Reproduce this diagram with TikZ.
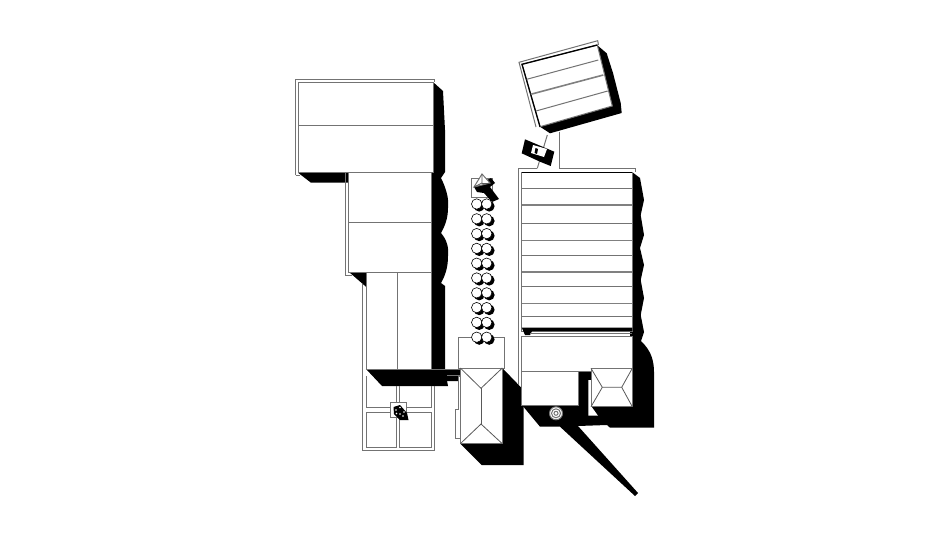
\documentclass[tikz,border=0pt]{standalone}
\usepackage{xcolor}
\tikzset{roofline/.style={draw=black!55,line width=1pt},
	ridgeline/.style={draw=black!65,line width=0.8pt},
	heavyline/.style={draw=black!50,line width=1.6pt},
	shade/.style={fill=black,draw=none},
	roof/.style={fill=white,draw=black!55,line width=1pt},
	tree/.style={fill=white,draw=black,line width=0.6pt}}
\begin{document}
\begin{tikzpicture}[x=1pt,y=-1pt]
		\useasboundingbox (0,0) rectangle (950,538);
		% shadows of the long building on the left
		\fill[shade] (433,82) -- (443,91) -- (445,130) -- (445,172) -- (441,178) .. controls (447,190) and (449,200) .. (448,208) .. controls (448,218) and (445,226) .. (441,233) .. controls (447,240) and (449,248) .. (448,256) .. controls (448,268) and (445,276) .. (441,283) -- (445,286) -- (445,369) -- (460,369) -- (460,381) -- (447,381) -- (448,386) -- (382,386) -- (366,369) -- (431,369) -- (431,82) -- cycle;
		\fill[shade] (298,172.7) -- (311,182.7) -- (348.3,182.7) -- (348.3,172.7) -- cycle;
		\fill[shade] (349,272) -- (366.3,287) -- (366.3,272) -- cycle;
		% shadow of the middle house
		\fill[shade] (502.3,368) -- (523.5,390) -- (523.5,465) -- (481.7,465) -- (460.3,443.7) -- cycle;
		% shadows of the long building on the right
		\fill[shade] (632,172) -- (640,178) -- (644,200) -- (640.7,215) -- (644,235) -- (640,248) -- (644,265) -- (640.7,280) -- (644,298) -- (640.7,315) -- (644,332) -- (640,344) -- (630,344) -- cycle;
		\fill[shade] (630,336) -- (635,336) .. controls (642,342) and (654,350) .. (654,372) -- (654,427.7) -- (610,427.7) -- (607,425) -- (578,426) -- (638,493) -- (635,496) -- (560,426.7) -- (540,426.7) -- (522,405) -- (578,371) -- (630,371) -- cycle;
		\fill[white] (588.3,380) -- (591,380) -- (591,406) -- (598,415.7) -- (588.3,415.7) -- cycle;
		% shadow of the tilted building
		\fill[shade] (597,45) -- (606.7,53.3) -- (613,73) -- (620.7,103) -- (621.7,113) -- (550,133.3) -- (540,126.7) -- cycle;
		% left building
		\draw[roofline] (295.7,175.3) -- (295.7,79) -- (434,79) -- (434,82);
		\draw[roofline] (295.7,175.3) -- (300,175.3);
		\draw[roof] (298.3,82) rectangle (433,172.7);
		\draw[roofline] (298.3,125) -- (433,125);
		\draw[roofline] (345.7,172.7) -- (345.7,275.3) -- (352,275.3);
		\draw[roof] (348.3,172.7) rectangle (431.7,272);
		\draw[roofline] (348.3,222) -- (431.7,222);
		\draw[roof] (366.3,272) rectangle (431.7,369);
		\draw[roofline] (397.7,272) -- (397.7,369);
		% walled garden with the four beds
		\draw[roofline] (362.7,284) -- (362.7,450.7) -- (434,450.7) -- (434,386);
		\draw[roofline] (366,376) -- (366,407.7) -- (396.7,407.7) -- (396.7,386);
		\draw[roofline] (431,386) -- (431,407.7) -- (399.7,407.7) -- (399.7,386);
		\draw[roofline] (366,412) rectangle (396.7,447.7);
		\draw[roofline] (399.7,412) rectangle (431,447.7);
		\draw[roofline,fill=white] (390.7,402.7) -- (406.7,402.7) -- (406.7,417) -- (390.7,417) -- cycle;
		\fill[shade] (393.5,407) -- (400,405) -- (407,413) -- (408.5,420) -- (400,420) -- (394,414) -- cycle;
		\foreach \dotx/\doty in {396/410,400/407.5,404/412,400/414,396.5/413.5,403/416}
			\fill[white] (\dotx,\doty) circle (0.8);
		% path between the buildings
		\draw[roofline] (431.7,369) -- (460,369);
		\draw[roofline] (447,375) -- (460,375);
		\draw[roof] (458,337.3) rectangle (504.3,368);
		\draw[roofline,fill=white] (455.3,409.3) -- (458,409.3) -- (458,376) -- (460.3,376) -- (460.3,438) -- (455.3,438) -- cycle;
		% middle house
		\draw[roof] (460.3,368) rectangle (502.3,443.7);
		\draw[ridgeline] (460.3,368) -- (481,388.3) -- (502.3,368);
		\draw[ridgeline] (481,388.3) -- (481,424);
		\draw[ridgeline] (460.3,443.7) -- (481,424) -- (502.3,443.7);
		% row of trees
		\draw[roofline] (471,178) rectangle (492,197);
		\foreach \rowy in {204,218.8,233.6,248.4,263.2,278,292.8,307.6,322.4,337.2} {
			\fill[shade] (479.2,\rowy+2.2) circle (5.4);
			\fill[shade] (489.2,\rowy+2.2) circle (5.4);
			\draw[tree] (476.7,\rowy) circle (5.2);
			\draw[tree] (486.7,\rowy) circle (5.2);
		}
		% pavilion at the head of the trees
		\fill[shade] (474,187) -- (491,178) -- (495,183) -- (490,187) -- (499,199) -- (492,202) -- (484,193) -- (477,192) -- cycle;
		\draw[roofline,fill=white] (482,174) -- (474,187) -- (490,183) -- cycle;
		\draw[ridgeline] (482,174) -- (482,183) -- (474,187);
		\draw[ridgeline] (482,183) -- (490,183);
		% right building
		\draw[roofline] (518.5,385) -- (518.5,168.3) -- (537.3,168.3);
		\draw[roofline] (559.3,168.3) -- (635,168.3) -- (635,172);
		\draw[roof] (521.7,172.3) rectangle (632.3,331);
		\draw[black,line width=1.4pt] (521.7,172.3) -- (632.3,172.3);
		\foreach \liney in {188.7,223.7,255,286.7,316}
			\draw[roofline] (521.7,\liney) -- (632.3,\liney);
		\foreach \liney in {205,240.3,271.7,303.3}
			\draw[heavyline] (521.7,\liney) -- (632.3,\liney);
		\fill[shade] (521.7,327.5) -- (632.3,327.5) -- (632.3,331) -- (532,331) -- (530,335) -- (525,335) -- cycle;
		% lower wing, with the small house and the well
		\draw[roof] (521.7,336.7) rectangle (632.3,371);
		\draw[roofline] (530,333.5) -- (632.3,333.5);
		\draw[roof] (521.7,371) rectangle (578.3,405);
		\draw[roof] (591,368.3) rectangle (632.3,406.7);
		\draw[ridgeline] (591,368.3) -- (602.3,387.3) -- (621.7,387.3) -- (632.3,368.3);
		\draw[ridgeline] (591,406.7) -- (602.3,387.3);
		\draw[ridgeline] (632.3,406.7) -- (621.7,387.3);
		\draw[roofline,fill=white] (556,413.3) circle (6.5);
		\draw[roofline] (556,413.3) circle (4.5);
		\draw[roofline] (556,413.3) circle (2);
		% links to the tilted building
		\draw[roofline] (559.3,131.7) -- (559.3,168.3);
		\draw[roofline] (547.3,135) -- (537.3,168.3);
		% tilted building
		\draw[roofline] (536,127) -- (519,62.3) -- (597.7,40.7) -- (598.5,45);
		\draw[roofline,fill=white] (522,64.3) -- (597.3,45) -- (612.3,106) -- (540,126.7) -- cycle;
		\draw[black,line width=1.3pt] (540,126.7) -- (522,64.3) -- (597.3,45);
		\draw[roofline] (526.7,79.3) -- (598.3,60);
		\draw[heavyline] (530.7,94.3) -- (603.3,75);
		\draw[roofline] (536,111) -- (607.7,91);
		% small black box
		\fill[shade] (525,139.3) -- (554.3,151.7) -- (550.7,166) -- (540,161.7) -- (521.7,153.3) -- cycle;
		\fill[white] (533,145) -- (547,149) -- (544,157) -- (531,153) -- cycle;
		\fill[shade] (535.5,148) -- (538,149) -- (537,154) -- (534.5,153) -- cycle;
	\end{tikzpicture}
\end{document}
